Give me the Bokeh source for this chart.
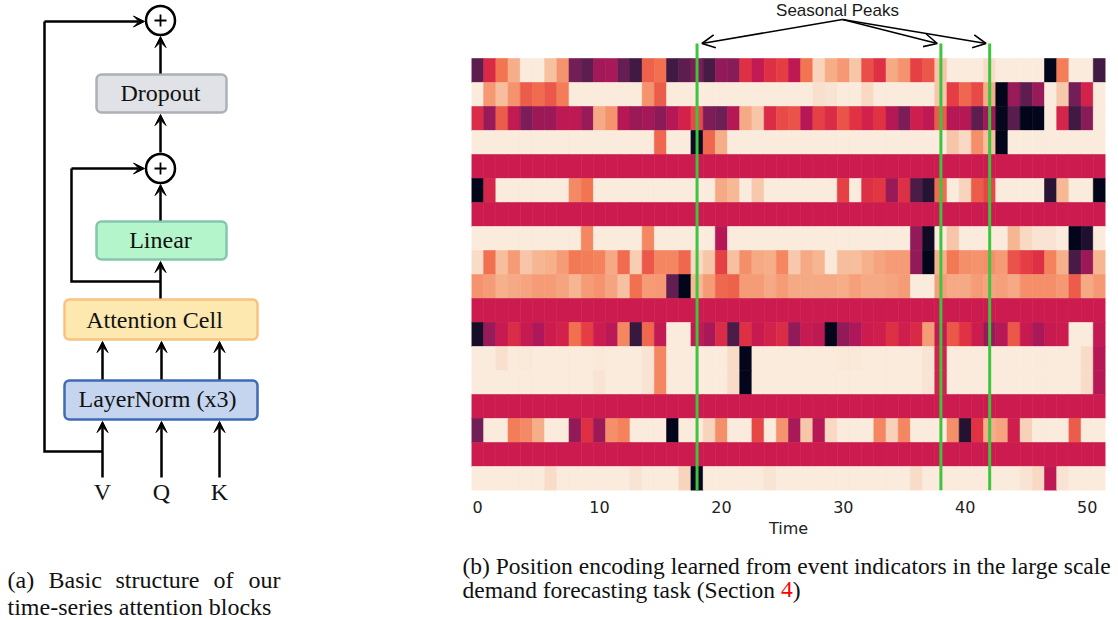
from bokeh.plotting import figure
from bokeh.layouts import row, column
from bokeh.models import (Range1d, FixedTicker, LinearColorMapper, Arrow,
                          VeeHead, OpenHead, ColumnDataSource)
from bokeh.core.properties import value
from bokeh.embed import file_html
from bokeh.resources import INLINE

# ---------------- data: learned position encoding (rows = encoding dims, cols = time) ----
time_steps = list(range(52))
tick_values = [0, 10, 20, 30, 40, 50]
seasonal_peaks = [18, 38, 42]

row_00 = [0.24, 0.54, 0.71, 0.84, 1.00, 1.00, 0.89, 0.78, 0.29, 0.24, 0.40, 0.42, 0.26,
          0.17, 0.67, 0.70, 0.17, 0.24, 0.32, 0.19, 0.37, 0.34, 0.56, 0.48, 0.56, 0.59,
          0.47, 0.71, 0.94, 0.84, 0.79, 0.90, 0.63, 0.56, 0.83, 0.78, 0.60, 0.65, 0.90,
          1.00, 1.00, 1.00, 0.96, 1.00, 1.00, 1.00, 1.00, 0.00, 0.73, 1.00, 1.00, 0.17]
row_01 = [1.00, 0.79, 0.88, 0.78, 0.66, 0.69, 0.65, 0.73, 1.00, 1.00, 1.00, 1.00, 1.00,
          1.00, 0.78, 0.66, 1.00, 1.00, 1.00, 1.00, 1.00, 1.00, 1.00, 1.00, 1.00, 1.00,
          1.00, 1.00, 0.97, 0.98, 1.00, 1.00, 0.95, 1.00, 1.00, 1.00, 1.00, 1.00, 0.90,
          0.59, 0.68, 0.62, 0.84, 0.00, 0.38, 0.24, 0.38, 1.00, 0.91, 0.29, 0.52, 1.00]
row_02 = [0.55, 0.38, 0.66, 0.48, 0.32, 0.39, 0.39, 0.47, 0.47, 0.38, 0.83, 0.78, 0.45,
          0.39, 0.41, 0.35, 0.45, 0.52, 0.62, 0.32, 0.28, 0.45, 0.83, 0.90, 0.55, 0.62,
          0.64, 0.45, 0.60, 0.55, 0.64, 0.57, 0.52, 0.57, 0.45, 0.32, 0.51, 0.47, 0.66,
          0.45, 0.45, 0.24, 0.41, 0.01, 0.23, 0.00, 0.00, 1.00, 0.53, 0.17, 0.34, 1.00]
row_03 = [1.00, 1.00, 1.00, 1.00, 1.00, 1.00, 1.00, 1.00, 1.00, 1.00, 1.00, 1.00, 1.00,
          1.00, 1.00, 0.68, 1.00, 1.00, 0.04, 0.68, 0.84, 1.00, 1.00, 1.00, 1.00, 1.00,
          1.00, 1.00, 1.00, 1.00, 1.00, 1.00, 1.00, 1.00, 1.00, 1.00, 1.00, 1.00, 1.00,
          0.90, 0.95, 0.77, 0.88, 0.00, 1.00, 1.00, 1.00, 1.00, 1.00, 1.00, 1.00, 1.00]
row_04 = [0.50, 0.50, 0.50, 0.50, 0.50, 0.50, 0.50, 0.50, 0.50, 0.50, 0.50, 0.50, 0.50,
          0.50, 0.50, 0.50, 0.50, 0.50, 0.50, 0.50, 0.50, 0.50, 0.50, 0.50, 0.50, 0.50,
          0.50, 0.50, 0.50, 0.50, 0.50, 0.50, 0.50, 0.50, 0.50, 0.50, 0.50, 0.50, 0.50,
          0.50, 0.50, 0.50, 0.50, 0.50, 0.50, 0.50, 0.50, 0.50, 0.50, 0.50, 0.50, 0.50]
row_05 = [0.00, 0.53, 1.00, 1.00, 1.00, 1.00, 1.00, 1.00, 0.76, 0.71, 1.00, 1.00, 1.00,
          1.00, 1.00, 1.00, 1.00, 1.00, 1.00, 1.00, 0.83, 0.87, 1.00, 0.91, 1.00, 1.00,
          1.00, 1.00, 1.00, 1.00, 0.60, 1.00, 0.56, 0.58, 0.38, 0.56, 0.20, 0.10, 0.69,
          1.00, 0.94, 0.66, 0.61, 1.00, 1.00, 1.00, 1.00, 0.11, 0.87, 1.00, 1.00, 0.00]
row_06 = [0.50, 0.50, 0.50, 0.50, 0.50, 0.50, 0.50, 0.50, 0.50, 0.50, 0.50, 0.50, 0.50,
          0.50, 0.50, 0.50, 0.50, 0.50, 0.50, 0.50, 0.50, 0.50, 0.50, 0.50, 0.50, 0.50,
          0.50, 0.50, 0.50, 0.50, 0.50, 0.50, 0.50, 0.50, 0.50, 0.50, 0.50, 0.50, 0.50,
          0.50, 0.50, 0.50, 0.50, 0.50, 0.50, 0.50, 0.50, 0.50, 0.50, 0.50, 0.50, 0.50]
row_07 = [1.00, 1.00, 1.00, 1.00, 1.00, 1.00, 1.00, 1.00, 1.00, 0.75, 1.00, 1.00, 1.00,
          1.00, 0.75, 1.00, 1.00, 1.00, 1.00, 1.00, 0.45, 1.00, 1.00, 1.00, 1.00, 1.00,
          1.00, 1.00, 1.00, 1.00, 1.00, 1.00, 1.00, 1.00, 1.00, 1.00, 0.37, 0.04, 1.00,
          0.90, 1.00, 1.00, 1.00, 1.00, 0.86, 0.95, 0.98, 0.98, 1.00, 0.00, 0.08, 1.00]
row_08 = [0.96, 0.70, 0.88, 0.80, 0.90, 0.86, 0.85, 0.80, 0.72, 0.73, 0.74, 0.83, 0.69,
          0.92, 0.65, 0.75, 0.75, 0.68, 0.95, 0.90, 0.60, 0.89, 0.77, 0.83, 0.84, 0.75,
          0.91, 0.83, 0.86, 0.99, 0.88, 0.88, 0.85, 0.82, 0.80, 0.80, 0.36, 0.00, 0.85,
          0.72, 0.77, 0.78, 0.77, 0.80, 0.64, 0.59, 0.56, 0.74, 0.85, 0.19, 0.39, 0.86]
row_09 = [0.78, 0.80, 0.85, 0.83, 0.82, 0.80, 0.80, 0.82, 0.86, 0.80, 0.78, 0.82, 0.89,
          0.70, 0.80, 0.79, 0.25, 0.00, 0.87, 0.80, 0.68, 0.67, 0.80, 0.80, 0.83, 0.80,
          0.83, 0.83, 0.83, 0.83, 0.84, 0.81, 0.83, 0.83, 0.82, 0.80, 1.00, 1.00, 0.81,
          0.83, 0.83, 0.80, 0.82, 0.81, 0.83, 0.77, 0.77, 0.77, 0.79, 0.66, 0.83, 0.79]
row_10 = [0.50, 0.50, 0.50, 0.50, 0.50, 0.50, 0.50, 0.50, 0.50, 0.50, 0.50, 0.50, 0.50,
          0.50, 0.50, 0.50, 0.50, 0.50, 0.50, 0.50, 0.50, 0.50, 0.50, 0.50, 0.50, 0.50,
          0.50, 0.50, 0.50, 0.50, 0.50, 0.50, 0.50, 0.50, 0.50, 0.50, 0.50, 0.50, 0.50,
          0.50, 0.50, 0.50, 0.50, 0.50, 0.50, 0.50, 0.50, 0.50, 0.50, 0.50, 0.50, 0.50]
row_11 = [0.06, 0.38, 0.49, 0.55, 0.49, 0.43, 0.50, 0.52, 0.70, 0.59, 0.50, 0.46, 0.75,
          0.15, 0.68, 0.48, 1.00, 1.00, 0.48, 0.42, 0.55, 0.20, 0.56, 0.49, 0.52, 0.55,
          0.36, 0.49, 0.47, 0.00, 0.36, 0.43, 0.50, 0.51, 0.56, 0.51, 0.54, 0.80, 0.48,
          0.65, 0.57, 0.50, 0.38, 0.45, 0.65, 0.49, 0.42, 0.49, 0.50, 1.00, 1.00, 0.48]
row_12 = [1.00, 1.00, 0.97, 1.00, 0.99, 1.00, 1.00, 1.00, 1.00, 1.00, 0.99, 1.00, 1.00,
          1.00, 0.98, 0.75, 1.00, 1.00, 1.00, 1.00, 1.00, 0.96, 0.00, 1.00, 1.00, 1.00,
          1.00, 1.00, 1.00, 1.00, 0.99, 0.99, 1.00, 1.00, 1.00, 1.00, 1.00, 0.98, 0.52,
          1.00, 1.00, 1.00, 1.00, 1.00, 1.00, 1.00, 1.00, 1.00, 1.00, 1.00, 0.96, 0.45]
row_13 = [1.00, 1.00, 1.00, 1.00, 1.00, 1.00, 1.00, 1.00, 1.00, 1.00, 0.98, 1.00, 1.00,
          1.00, 0.98, 0.75, 1.00, 1.00, 1.00, 1.00, 1.00, 0.96, 0.00, 1.00, 1.00, 1.00,
          1.00, 1.00, 1.00, 1.00, 1.00, 1.00, 1.00, 1.00, 1.00, 1.00, 1.00, 0.98, 0.52,
          1.00, 1.00, 1.00, 1.00, 1.00, 1.00, 1.00, 1.00, 1.00, 1.00, 1.00, 0.96, 0.45]
row_14 = [0.50, 0.50, 0.50, 0.50, 0.50, 0.50, 0.50, 0.50, 0.50, 0.50, 0.50, 0.50, 0.50,
          0.50, 0.50, 0.50, 0.50, 0.50, 0.50, 0.50, 0.50, 0.50, 0.50, 0.50, 0.50, 0.50,
          0.50, 0.50, 0.50, 0.50, 0.50, 0.50, 0.50, 0.50, 0.50, 0.50, 0.50, 0.50, 0.50,
          0.50, 0.50, 0.50, 0.50, 0.50, 0.50, 0.50, 0.50, 0.50, 0.50, 0.50, 0.50, 0.50]
row_15 = [0.29, 1.00, 1.00, 0.73, 0.76, 0.84, 1.00, 1.00, 0.37, 0.56, 0.39, 0.77, 0.74,
          1.00, 1.00, 1.00, 0.00, 1.00, 1.00, 0.94, 0.77, 1.00, 1.00, 0.61, 1.00, 0.78,
          0.42, 0.90, 0.45, 0.95, 1.00, 1.00, 1.00, 0.75, 0.93, 0.75, 1.00, 1.00, 1.00,
          0.77, 0.09, 0.57, 0.84, 0.82, 0.51, 0.93, 1.00, 1.00, 1.00, 0.66, 1.00, 1.00]
row_16 = [0.50, 0.50, 0.50, 0.50, 0.50, 0.50, 0.50, 0.50, 0.50, 0.50, 0.50, 0.50, 0.50,
          0.50, 0.50, 0.50, 0.50, 0.50, 0.50, 0.50, 0.50, 0.50, 0.50, 0.50, 0.50, 0.50,
          0.50, 0.50, 0.50, 0.50, 0.50, 0.50, 0.50, 0.50, 0.50, 0.50, 0.50, 0.50, 0.50,
          0.50, 0.50, 0.50, 0.50, 0.50, 0.50, 0.50, 0.50, 0.50, 0.50, 0.50, 0.50, 0.50]
row_17 = [1.00, 1.00, 1.00, 1.00, 1.00, 1.00, 0.96, 1.00, 1.00, 1.00, 1.00, 1.00, 1.00,
          0.98, 1.00, 1.00, 1.00, 0.94, 0.00, 1.00, 1.00, 1.00, 1.00, 1.00, 0.98, 1.00,
          1.00, 1.00, 1.00, 1.00, 1.00, 1.00, 1.00, 1.00, 1.00, 1.00, 0.96, 1.00, 1.00,
          1.00, 1.00, 1.00, 1.00, 1.00, 1.00, 0.98, 0.95, 0.47, 0.98, 1.00, 1.00, 1.00]

encoding_rows = [row_00, row_01, row_02, row_03, row_04, row_05, row_06, row_07, row_08,
                 row_09, row_10, row_11, row_12, row_13, row_14, row_15, row_16, row_17]

# ---------------- diagram content (left panel) ----------------
block_names = ["Dropout", "Linear", "Attention Cell", "LayerNorm (x3)"]
input_names = ["V", "Q", "K"]

# ---------------- styling helpers ----------------
ROCKET_ANCHORS = [(0.0, "#03051a"), (0.143, "#35193e"), (0.286, "#701f57"),
                  (0.429, "#ad1759"), (0.5, "#cb1b4f"), (0.571, "#e13342"),
                  (0.714, "#f37651"), (0.857, "#f6b48f"), (1.0, "#faebdd")]


def _hex(c):
    return tuple(int(c[i:i + 2], 16) for i in (1, 3, 5))


def rocket_palette(n=256):
    out = []
    for k in range(n):
        t = k / (n - 1)
        for (t0, c0), (t1, c1) in zip(ROCKET_ANCHORS[:-1], ROCKET_ANCHORS[1:]):
            if t0 <= t <= t1:
                f = (t - t0) / (t1 - t0)
                a, b = _hex(c0), _hex(c1)
                rgb = [round(a[i] + (b[i] - a[i]) * f) for i in range(3)]
                out.append("#%02x%02x%02x" % tuple(rgb))
                break
    return out


SERIF = "Liberation Serif"
SANS = "Liberation Sans"
AXIS_FONT = "DejaVu Sans"
TOTAL_W, TOTAL_H = 1112, 618
TXT_DY = 8  # rendered glyphs sit ~8px lower than the given y; compensate

# ================= LEFT: block diagram (1 data unit = 1 screen px) =================
LEFT_W = 448
p1 = figure(width=LEFT_W, height=TOTAL_H, x_range=Range1d(0, LEFT_W), y_range=Range1d(TOTAL_H, 0),
            output_backend="svg", toolbar_location=None, min_border=0,
            x_axis_location=None, y_axis_location=None)
p1.grid.visible = False
p1.outline_line_color = None
p1.frame_align = False

blk_left = [96, 96, 64, 64]
blk_right = [226, 226, 257, 257]
blk_top = [74, 221, 299, 380]
blk_bottom = [112, 259, 339, 419]
blk_fill = ["#e0e2e7", "#b5f5cc", "#fde8b0", "#c6d5ef"]
blk_line = ["#adb0b7", "#86c5ad", "#f9c27f", "#3f6ab5"]
blk_text_x = [160, 160, 154, 157]
blk_text_base = [100, 247, 327, 406]

p1.quad(left=blk_left, right=blk_right, top=blk_top, bottom=blk_bottom,
        fill_color=blk_fill, line_color=blk_line, line_width=2.5, border_radius=5)
p1.text(x=blk_text_x, y=[b - TXT_DY for b in blk_text_base], text=block_names,
        text_font=value(SERIF), text_font_size="24px", text_align="center",
        text_baseline="alphabetic", text_color="#111111")

# sum nodes
node_x = [160, 160]
node_y = [20, 168]
p1.circle(x=node_x, y=node_y, radius=14.5, fill_color="white", line_color="black", line_width=2.5)
p1.segment(x0=[x - 6 for x in node_x], y0=node_y, x1=[x + 6 for x in node_x], y1=node_y,
           line_color="black", line_width=1.8)
p1.segment(x0=node_x, y0=[y - 6 for y in node_y], x1=node_x, y1=[y + 6 for y in node_y],
           line_color="black", line_width=1.8)

# skip connections
p1.multi_line(xs=[[102, 44, 44], [160, 71, 71]], ys=[[451, 451, 21], [281, 281, 168]],
              line_color="black", line_width=2.5, line_join="miter")

arrows = [
    (160, 73, 160, 36),    # dropout -> top sum
    (160, 152, 160, 114),  # mid sum -> dropout
    (160, 220, 160, 184),  # linear -> mid sum
    (160, 298, 160, 261),  # attention -> linear
    (44, 21, 144, 21),     # outer residual
    (71, 168, 144, 168),   # inner residual
    (102, 379, 102, 341), (161, 379, 161, 341), (219, 379, 219, 341),
    (102, 477, 102, 421), (161, 477, 161, 421), (219, 477, 219, 421),
]
for x0, y0, x1, y1 in arrows:
    p1.add_layout(Arrow(end=VeeHead(size=11, fill_color="black", line_color="black", line_width=1),
                        x_start=x0, y_start=y0, x_end=x1, y_end=y1,
                        line_color="black", line_width=2.5))

p1.text(x=[102, 161, 219], y=[499 - TXT_DY] * 3, text=input_names, text_font=value(SERIF),
        text_font_size="24px", text_align="center", text_baseline="alphabetic",
        text_color="#111111")

# caption (a) - first line justified
cap_a_words = ["(a)", "Basic", "structure", "of", "our"]
cap_a_x = [7, 48, 115, 213, 248]
p1.text(x=cap_a_x, y=[587 - TXT_DY] * len(cap_a_words), text=cap_a_words, text_font=value(SERIF),
        text_font_size="24px", text_align="left", text_baseline="alphabetic", text_color="#111111")
p1.text(x=[7], y=[614 - TXT_DY], text=["time-series attention blocks"], text_font=value(SERIF),
        text_font_size="24px", text_align="left", text_baseline="alphabetic", text_color="#111111")

# ================= RIGHT: heatmap =================
RIGHT_W = TOTAL_W - LEFT_W
FRAME_L_PX, FRAME_R_PX = 471, 1105
CELL_W = (FRAME_R_PX - FRAME_L_PX) / len(time_steps)
ROW_H = 24.0
HEAT_TOP_PX = 58
HEAT_FIG_H = 540


def x_of(px):
    return -0.5 + (px - FRAME_L_PX) / CELL_W


def y_of(py):
    return -0.5 + (py - HEAT_TOP_PX) / ROW_H


n_rows = len(encoding_rows)
heat_bottom_px = HEAT_TOP_PX + ROW_H * n_rows  # 490

p2 = figure(width=RIGHT_W, height=HEAT_FIG_H,
            x_range=Range1d(-0.5, len(time_steps) - 0.5),
            y_range=Range1d(y_of(heat_bottom_px), y_of(0)),
            output_backend="svg", toolbar_location=None,
            min_border_left=FRAME_L_PX - LEFT_W, min_border_right=TOTAL_W - FRAME_R_PX,
            min_border_top=0, min_border_bottom=int(HEAT_FIG_H - heat_bottom_px),
            y_axis_location=None)
p2.grid.visible = False
p2.outline_line_color = None
p2.frame_align = False

xs, ys, vs = [], [], []
for r, vals in enumerate(encoding_rows):
    for t, v in zip(time_steps, vals):
        xs.append(t)
        ys.append(r)
        vs.append(v)
src = ColumnDataSource(dict(x=xs, y=ys, v=vs))
mapper = LinearColorMapper(palette=rocket_palette(), low=0.0, high=1.0)
p2.rect(x="x", y="y", width=1, height=1, source=src,
        fill_color={"field": "v", "transform": mapper},
        line_color={"field": "v", "transform": mapper}, line_width=0.6)

# seasonal peak markers
green_top = y_of(43)
p2.segment(x0=seasonal_peaks, y0=[green_top] * len(seasonal_peaks),
           x1=seasonal_peaks, y1=[n_rows - 0.5] * len(seasonal_peaks),
           line_color="#3ec43e", line_width=3)

# annotation
ann_x = x_of(837)
p2.text(x=[ann_x], y=[y_of(18 - TXT_DY)], text=["Seasonal Peaks"], text_font=value(SANS),
        text_font_size="17px", text_align="center", text_baseline="alphabetic",
        text_color="#1a1a1a")
for pk in seasonal_peaks:
    off = 0.4 if pk < ann_x else -0.3
    p2.add_layout(Arrow(end=OpenHead(size=13, line_width=1.6, line_color="black"),
                        x_start=x_of(842), y_start=y_of(19), x_end=pk + off, y_end=green_top,
                        line_color="black", line_width=1.6))

# axis
p2.xaxis.ticker = FixedTicker(ticks=tick_values)
p2.xaxis.axis_line_color = None
p2.xaxis.major_tick_line_color = None
p2.xaxis.minor_tick_line_color = None
p2.xaxis.major_tick_out = 0
p2.xaxis.major_tick_in = 0
p2.xaxis.major_label_standoff = 10
p2.xaxis.major_label_text_font = AXIS_FONT
p2.xaxis.major_label_text_font_size = "16px"
p2.xaxis.major_label_text_color = "#222222"
p2.xaxis.axis_label = "Time"
p2.xaxis.axis_label_text_font = AXIS_FONT
p2.xaxis.axis_label_text_font_size = "16px"
p2.xaxis.axis_label_text_font_style = "normal"
p2.xaxis.axis_label_text_color = "#222222"
p2.xaxis.axis_label_standoff = 3

# caption (b) panel
p3 = figure(width=RIGHT_W, height=TOTAL_H - HEAT_FIG_H,
            x_range=Range1d(LEFT_W, TOTAL_W), y_range=Range1d(TOTAL_H, HEAT_FIG_H),
            output_backend="svg", toolbar_location=None, min_border=0,
            x_axis_location=None, y_axis_location=None)
p3.grid.visible = False
p3.outline_line_color = None
p3.frame_align = False

cap_font = "23.5px"
cap_b_text = ["(b) Position encoding learned from event indicators in the large scale",
              "demand forecasting task (Section ", ")"]
p3.text(x=[462, 462, 792.3], y=[573 - TXT_DY, 597 - TXT_DY, 597 - TXT_DY], text=cap_b_text,
        text_font=value(SERIF), text_font_size=cap_font, text_align="left",
        text_baseline="alphabetic", text_color="#111111")
p3.text(x=[780.5], y=[597 - TXT_DY], text=["4"], text_font=value(SERIF), text_font_size=cap_font,
        text_align="left", text_baseline="alphabetic", text_color="#ff0000")

layout = row(p1, column(p2, p3))
open("out.html", "w").write(file_html(layout, INLINE))
